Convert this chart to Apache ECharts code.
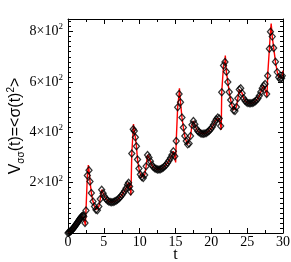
<!DOCTYPE html>
<html>
<head>
<meta charset="utf-8">
<script src="https://cdn.jsdelivr.net/npm/echarts@6/dist/echarts.min.js"></script>
<style>html,body{margin:0;padding:0;background:#fff}#c{width:291px;height:262px}</style>
</head>
<body>
<div id="c"></div>
<script>
// Sampled points (black diamonds)
var markT = [0,0.1,0.2,0.3,0.4,0.5,0.6,0.7,0.8,0.9,1.0,1.1,1.2,1.3,1.4,1.5,1.6,1.7,1.8,1.9,2.0,2.1,2.2,2.37,2.51,2.7,2.93,3.07,3.26,3.49,3.7,3.9,4.1,4.3,4.5,4.7,4.9,5.1,5.3,5.5,5.7,5.9,6.1,6.3,6.5,6.7,6.9,7.1,7.3,7.5,7.7,7.9,8.1,8.3,8.45,8.6,8.74,8.9,9.1,9.25,9.4,9.55,9.7,9.9,10.1,10.3,10.5,10.7,10.9,11.1,11.3,11.5,11.7,11.9,12.1,12.3,12.5,12.7,12.9,13.1,13.3,13.5,13.7,13.9,14.1,14.3,14.5,14.7,14.9,15.1,15.3,15.5,15.7,15.9,16.1,16.3,16.5,16.7,16.9,17.1,17.3,17.5,17.7,17.9,18.1,18.3,18.5,18.7,18.9,19.1,19.3,19.5,19.7,19.9,20.1,20.3,20.5,20.7,20.9,21.1,21.3,21.45,21.7,21.9,22.1,22.3,22.5,22.7,22.9,23.1,23.3,23.5,23.7,23.9,24.1,24.3,24.5,24.7,24.9,25.1,25.3,25.5,25.7,25.9,26.1,26.3,26.5,26.7,26.9,27.1,27.3,27.5,27.72,27.86,28.1,28.25,28.5,28.7,28.95,29.2,29.4,29.6,29.8,29.9];
var markV = [0,2,4,6,8,11,14,17,21,25,29,33,37,41,45,50,54,58,62,65,68,70,66,40,89,228,249,205,159,125,105,92,90,105,135,172,158,145,135,129,125,123,122,123,125,128,132,137,143,150,158,167,178,192,200,185,165,316,412,405,380,345,292,256,232,222,218,230,265,310,300,285,270,262,257,254,252,252,253,256,260,265,271,279,288,298,310,325,305,365,499,552,519,459,419,385,365,352,355,385,430,445,432,415,405,400,396,394,394,395,397,401,406,412,420,430,442,452,459,455,425,559,665,679,640,600,560,528,505,488,485,500,535,570,575,555,535,525,519,516,515,515,516,518,522,527,534,545,560,575,585,592,552,625,732,799,780,735,680,639,619,612,615,625];
// Extra extremes of the continuous (red) curve
var peakT = [2.42, 2.84, 8.78, 9.14, 15.02, 15.55, 21.38, 21.95, 27.76, 28.35, 30.0];
var peakV = [30, 270, 150, 433, 280, 575, 410, 705, 540, 832, 645];
var xTicks = {min: 0, max: 30, interval: 5};
var yTicks = {min: 0, max: 850, interval: 200};

var markData = markT.map(function (t, i) { return [t, markV[i]]; });
var lineData = markData.concat(peakT.map(function (t, i) { return [t, peakV[i]]; }));
lineData.sort(function (a, b) { return a[0] - b[0]; });

var FF = 'Liberation Serif';
var FS = 'Liberation Sans';
var blk = {color: '#000', width: 1};
function xAx(pos, showLab) {
  return {
    type: 'value', position: pos, min: xTicks.min, max: xTicks.max, interval: xTicks.interval,
    axisLine: {show: true, onZero: false, lineStyle: blk},
    axisTick: {show: true, inside: true, length: 5, lineStyle: blk},
    minorTick: {show: true, splitNumber: 2, length: 3, lineStyle: blk},
    splitLine: {show: false},
    axisLabel: {show: showLab, color: '#000', fontFamily: FF, fontSize: 14, margin: 2},
    name: showLab ? 't' : '', nameLocation: 'middle', nameGap: 14, nameMoveOverlap: false,
    nameTextStyle: {color: '#000', fontFamily: FF, fontSize: 16, verticalAlign: 'top'}
  };
}
function yAx(pos, showLab) {
  return {
    type: 'value', position: pos, min: yTicks.min, max: yTicks.max, interval: yTicks.interval,
    axisLine: {show: true, onZero: false, lineStyle: blk},
    axisTick: {show: true, inside: true, length: 5, lineStyle: blk},
    minorTick: {show: true, splitNumber: 10, length: 3, lineStyle: blk},
    splitLine: {show: false},
    axisLabel: {
      show: showLab, showMaxLabel: false, showMinLabel: false, margin: 5,
      formatter: function (v) { return v === 0 ? '' : '{b|' + (v / 100) + '×10}{s|2}'; },
      rich: {
        b: {color: '#000', fontFamily: FF, fontSize: 14, lineHeight: 18},
        s: {color: '#000', fontFamily: FF, fontSize: 9, verticalAlign: 'top', lineHeight: 18}
      }
    },
    name: showLab ? '{n|V}{sub|σσ}{n|(t)=<σ(t)}{sup|2}{n|>}' : '',
    nameLocation: 'middle', nameRotate: 90, nameGap: 42, nameMoveOverlap: false,
    nameTextStyle: {
      rich: {
        n: {color: '#000', fontFamily: FS, fontSize: 16, lineHeight: 20},
        sub: {color: '#000', fontFamily: FS, fontSize: 10, verticalAlign: 'bottom', lineHeight: 20},
        sup: {color: '#000', fontFamily: FS, fontSize: 10, verticalAlign: 'top', lineHeight: 20}
      }
    }
  };
}
var chart = echarts.init(document.getElementById('c'), null, {renderer: 'canvas'});
chart.setOption({
  animation: false,
  backgroundColor: '#fff',
  grid: {left: 68, right: 8, top: 19, bottom: 29, containLabel: false, outerBoundsMode: 'none'},
  xAxis: [xAx('bottom', true), xAx('top', false)],
  yAxis: [yAx('left', true), yAx('right', false)],
  series: [
    {type: 'line', data: lineData, symbol: 'none', lineStyle: {color: '#ff0000', width: 1.4}, z: 2},
    {type: 'scatter', data: markData, symbol: 'diamond', symbolSize: [6, 7],
      itemStyle: {color: 'rgba(255,255,255,0)', borderColor: '#000', borderWidth: 1.3}, z: 3}
  ]
});
</script>
</body>
</html>
